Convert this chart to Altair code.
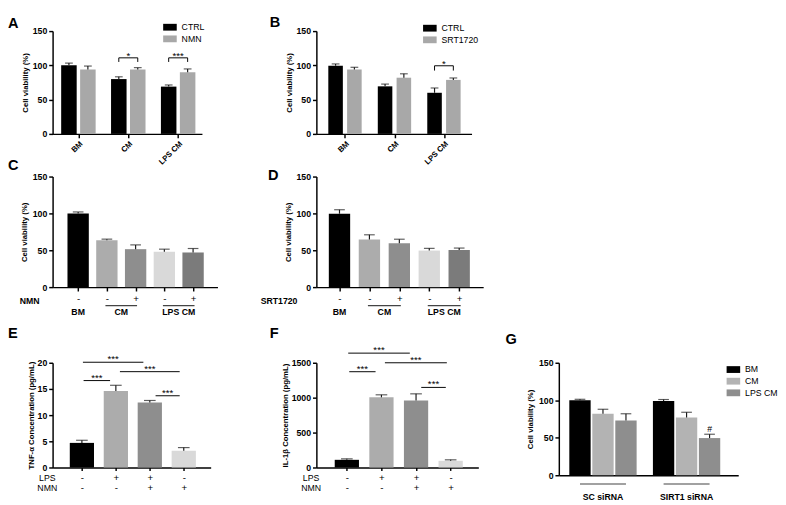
import json
import altair as alt
import pandas as pd

FONT = "Liberation Sans"
INK = "#000000"
ERR = "#1a1a1a"
SWATCH = "M-1,-0.5L1,-0.5L1,0.5L-1,0.5Z"

# ---------------- Panel A ----------------
a_groups = ["BM", "CM", "LPS CM"]
a_series = ["CTRL", "NMN"]
a_ctrl = [100, 80, 69]
a_ctrl_err = [3.3, 3.3, 2.4]
a_nmn = [94, 94, 90]
a_nmn_err = [5.0, 2.7, 4.8]
a_sig_groups = ["CM", "LPS CM"]
a_sig_labels = ["*", "***"]
a_sig_top = [111, 111]
a_sig_foot = [105, 105]

# ---------------- Panel B ----------------
b_groups = ["BM", "CM", "LPS CM"]
b_series = ["CTRL", "SRT1720"]
b_ctrl = [99.6, 69.4, 60]
b_ctrl_err = [2.5, 3.3, 7.0]
b_srt = [94, 82, 78.8]
b_srt_err = [3.2, 5.7, 2.8]
b_sig_groups = ["LPS CM"]
b_sig_labels = ["*"]
b_sig_top = [99.4]
b_sig_foot = [92.4]

# ---------------- Panels C / D ----------------
cd_group_names = ["BM", "CM", "LPS CM"]
cd_group_members = [[1], [2, 3], [4, 5]]
c_signs = ["-", "-", "+", "-", "+"]
c_vals = [100, 63.6, 51.5, 48, 47]
c_err = [2.0, 1.5, 5.8, 3.5, 5.4]
d_signs = ["-", "-", "+", "-", "+"]
d_vals = [99.6, 64.7, 59.5, 49.6, 50.4]
d_err = [5.4, 6.3, 5.5, 3.0, 2.6]

# ---------------- Panels E / F ----------------
ef_lps = ["-", "+", "+", "-"]
ef_nmn = ["-", "-", "+", "+"]
e_vals = [4.7, 14.6, 12.4, 3.2]
e_err = [0.5, 1.1, 0.4, 0.6]
e_sig_from = [1.03, 1.05, 2.12, 3.17]
e_sig_to = [2.81, 1.83, 3.88, 3.88]
e_sig_y = [20.1, 16.6, 18.3, 13.7]
e_sig_labels = ["***", "***", "***", "***"]
f_vals = [110, 1005, 959, 96]
f_err = [14, 36, 96, 14]
f_sig_from = [1.04, 1.07, 2.10, 3.15]
f_sig_to = [2.82, 1.83, 3.89, 3.86]
f_sig_y = [1638, 1372, 1500, 1147]
f_sig_labels = ["***", "***", "***", "***"]

# ---------------- Panel G ----------------
g_groups = ["SC siRNA", "SIRT1 siRNA"]
g_series = ["BM", "CM", "LPS CM"]
g_sc = [100, 82, 73]
g_sc_err = [1.3, 6.0, 9.0]
g_sirt = [99, 77, 49.6]
g_sirt_err = [2.0, 7.0, 5.1]
g_mark_group = ["SIRT1 siRNA"]
g_mark_series = ["LPS CM"]
g_mark_label = ["#"]
g_mark_y = [61]

# ---------------- palettes ----------------
pair_palette = ["#000000", "#a8a8a8"]
five_palette = ["#000000", "#acacac", "#8e8e8e", "#d9d9d9", "#7b7b7b"]
four_palette = ["#000000", "#acacac", "#8e8e8e", "#d9d9d9"]
g_palette = ["#000000", "#b3b3b3", "#8e8e8e"]


def letter(t, dx, dy):
    return alt.TitleParams(text=t, anchor="start", frame="group", dx=dx, dy=dy,
                           offset=0, fontSize=15, fontWeight="bold", font=FONT,
                           color=INK, baseline="alphabetic")


def grouped_df(groups, series, vals, errs, dodge):
    rows = []
    for gi, g in enumerate(groups):
        for si, s in enumerate(series):
            rows.append(dict(group=g, series=s, pos=gi + dodge[si],
                             value=vals[si][gi], err=errs[si][gi]))
    return pd.DataFrame(rows)


def single_df(vals, errs):
    return pd.DataFrame(dict(cat=[str(i + 1) for i in range(len(vals))],
                             pos=list(range(1, len(vals) + 1)),
                             value=vals, err=errs))


class Frame:
    """Shared scales and axes of one panel, reused by every layer."""

    def __init__(self, xs, ys, xaxis, yaxis):
        self.xs, self.ys, self.xaxis, self.yaxis = xs, ys, xaxis, yaxis

    def X(self, f):
        return alt.X(f"{f}:Q", scale=self.xs, axis=self.xaxis)

    def Y(self, f):
        return alt.Y(f"{f}:Q", scale=self.ys, axis=self.yaxis)


def bar_layers(df, fr, color, bar_w, cap_w):
    bars = alt.Chart(df).mark_bar(size=bar_w).encode(x=fr.X("pos"), y=fr.Y("value"), color=color)
    base = alt.Chart(df).transform_calculate(top="datum.value + datum.err")
    stem = base.mark_rule(color=ERR, strokeWidth=1.2).encode(x=fr.X("pos"), y=fr.Y("value"), y2="top:Q")
    cap = base.mark_tick(orient="horizontal", size=cap_w, thickness=1.2, color=ERR).encode(
        x=fr.X("pos"), y=fr.Y("top"))
    return [bars, stem, cap]


def bracket_layers(groups, sig_groups, labels, tops, foots, dodge, fr):
    gi = [groups.index(g) for g in sig_groups]
    df = pd.DataFrame(dict(mid=gi, x1=[g + dodge[0] for g in gi],
                           x2=[g + dodge[-1] for g in gi], top=tops, foot=foots, label=labels))
    base = alt.Chart(df)
    h = base.mark_rule(color=INK, strokeWidth=1).encode(x=fr.X("x1"), x2="x2:Q", y=fr.Y("top"))
    l = base.mark_rule(color=INK, strokeWidth=1).encode(x=fr.X("x1"), y=fr.Y("top"), y2="foot:Q")
    r = base.mark_rule(color=INK, strokeWidth=1).encode(x=fr.X("x2"), y=fr.Y("top"), y2="foot:Q")
    t = base.mark_text(font=FONT, fontSize=10, baseline="alphabetic", dy=1, color=INK).encode(
        x=fr.X("mid"), y=fr.Y("top"), text="label:N")
    return [h, l, r, t]


def line_sig_layers(x1, x2, ys_vals, labels, fr):
    df = pd.DataFrame(dict(x1=x1, x2=x2, y=ys_vals, label=labels))
    base = alt.Chart(df)
    h = base.mark_rule(color=INK, strokeWidth=1).encode(x=fr.X("x1"), x2="x2:Q", y=fr.Y("y"))
    t = base.transform_calculate(mid="(datum.x1 + datum.x2) / 2").mark_text(
        font=FONT, fontSize=10, baseline="alphabetic", dy=0, color=INK).encode(
        x=fr.X("mid"), y=fr.Y("y"), text="label:N")
    return [h, t]


def group_label_layers(names, firsts, lasts, fr, height, line_dy, text_dy, ext):
    df = pd.DataFrame(dict(name=names, first=firsts, last=lasts))
    base = alt.Chart(df).transform_calculate(
        mid="(datum.first + datum.last) / 2",
        lo=f"datum.first - {ext}", hi=f"datum.last + {ext}")
    txt = base.mark_text(font=FONT, fontSize=9, fontWeight="bold", baseline="middle", color=INK).encode(
        x=fr.X("mid"), y=alt.value(height + text_dy), text="name:N")
    rule = base.transform_filter("datum.last > datum.first").mark_rule(
        color="#444444", strokeWidth=1.2).encode(
        x=fr.X("lo"), x2="hi:Q", y=alt.value(height + line_dy))
    return [rule, txt]


legend_style = dict(orient="none", title=None, symbolType=SWATCH, symbolSize=196,
                    symbolStrokeWidth=0, labelFont=FONT, labelFontSize=9,
                    labelFontWeight="normal", labelColor=INK, rowPadding=0, labelOffset=5)


def cv_axis(pad=3):
    return alt.Axis(values=[0, 50, 100, 150], title="Cell viability (%)", titlePadding=pad)


def ab_panel(groups, series, v1, e1, v2, e2, sig_g, sig_l, sig_t, sig_f, W, H, dom, bar_w,
             leg_x, leg_y, let, let_dx, let_dy):
    dodge = [-0.19, 0.19]
    df = grouped_df(groups, series, [v1, v2], [e1, e2], dodge)
    xaxis = alt.Axis(values=list(range(len(groups))),
                     labelExpr=f"{json.dumps(groups)}[datum.value]",
                     labelAngle=-45, labelFontSize=8, title=None)
    fr = Frame(alt.Scale(domain=dom, nice=False, zero=False),
               alt.Scale(domain=[0, 150], nice=False), xaxis, cv_axis(3))
    color = alt.Color("series:N", scale=alt.Scale(domain=series, range=pair_palette),
                      legend=alt.Legend(legendX=leg_x, legendY=leg_y, **legend_style))
    return alt.layer(
        *bar_layers(df, fr, color, bar_w, 8),
        *bracket_layers(groups, sig_g, sig_l, sig_t, sig_f, dodge, fr),
    ).properties(width=W, height=H, title=letter(let, let_dx, let_dy))


panel_a = ab_panel(a_groups, a_series, a_ctrl, a_ctrl_err, a_nmn, a_nmn_err, a_sig_groups,
                   a_sig_labels, a_sig_top, a_sig_foot, 154, 106, [-0.42, 2.38], 16, 114, -11,
                   "A", -46, 23)
panel_b = ab_panel(b_groups, b_series, b_ctrl, b_ctrl_err, b_srt, b_srt_err, b_sig_groups,
                   b_sig_labels, b_sig_top, b_sig_foot, 160, 106, [-0.48, 2.46], 15, 110, -10,
                   "B", -48, 21)


def cd_panel(signs, vals, errs, sign_title, title_x, W, H, dom, let, let_dx, let_dy):
    df = single_df(vals, errs)
    xaxis = alt.Axis(values=list(range(1, len(vals) + 1)),
                     labelExpr=f"{json.dumps(signs)}[datum.value - 1]",
                     labelFontWeight="normal", labelFontSize=10, labelPadding=3,
                     title=sign_title, titleAngle=0, titleX=title_x, titleY=14,
                     titleAlign="right", titleBaseline="middle", titleFontSize=9)
    fr = Frame(alt.Scale(domain=dom, nice=False, zero=False),
               alt.Scale(domain=[0, 150], nice=False), xaxis, cv_axis(4))
    color = alt.Color("cat:N", scale=alt.Scale(domain=list(df["cat"]), range=five_palette), legend=None)
    firsts = [m[0] for m in cd_group_members]
    lasts = [m[-1] for m in cd_group_members]
    return alt.layer(
        *bar_layers(df, fr, color, 22, 11),
        *group_label_layers(cd_group_names, firsts, lasts, fr, H, 19, 26, 0.05),
    ).properties(width=W, height=H, title=letter(let, let_dx, let_dy))


panel_c = cd_panel(c_signs, c_vals, c_err, "NMN", -14, 170, 114, [0.28, 5.68], "C", -46, 12)
panel_d = cd_panel(d_signs, d_vals, d_err, "SRT1720", -20, 172, 114, [0.39, 5.64], "D", -50, 23)


def ef_panel(vals, errs, ytitle, yvals, ymax, sx1, sx2, sy, slab, W, H, dom, let, let_dx, let_dy):
    df = single_df(vals, errs)
    signs = [[a, b] for a, b in zip(ef_lps, ef_nmn)]
    xaxis = alt.Axis(values=list(range(1, len(vals) + 1)),
                     labelExpr=f"{json.dumps(signs)}[datum.value - 1]",
                     labelFontWeight="normal", labelFontSize=10, labelLineHeight=11,
                     labelBaseline="top", labelPadding=2, tickSize=3,
                     title=["LPS", "NMN"], titleAngle=0, titleX=-6, titleY=6,
                     titleAlign="center", titleBaseline="top", titleFontWeight="normal",
                     titleFontSize=9, titleLineHeight=11)
    yaxis = alt.Axis(values=yvals, title=ytitle, format="d", titlePadding=2)
    fr = Frame(alt.Scale(domain=dom, nice=False, zero=False),
               alt.Scale(domain=[0, ymax], nice=False), xaxis, yaxis)
    color = alt.Color("cat:N", scale=alt.Scale(domain=list(df["cat"]), range=four_palette), legend=None)
    return alt.layer(
        *bar_layers(df, fr, color, 25, 12),
        *line_sig_layers(sx1, sx2, sy, slab, fr),
    ).properties(width=W, height=H, title=letter(let, let_dx, let_dy))


panel_e = ef_panel(e_vals, e_err, "TNF-α Concentration (pg/mL)", [0, 5, 10, 15, 20], 20,
                   e_sig_from, e_sig_to, e_sig_y, e_sig_labels, 163, 108, [0.28, 4.65], "E", -46, -2)
panel_f = ef_panel(f_vals, f_err, "IL-1β Concentration (pg/mL)", [0, 500, 1000, 1500], 1500,
                   f_sig_from, f_sig_to, f_sig_y, f_sig_labels, 167, 108, [0.26, 4.66], "F", -48, 7)

# ---------------- Panel G ----------------
G_W, G_H = 185, 116
g_dodge = [-0.275, 0.0, 0.275]
g_df = grouped_df(g_groups, g_series, [[g_sc[i], g_sirt[i]] for i in range(3)],
                  [[g_sc_err[i], g_sirt_err[i]] for i in range(3)], g_dodge)
g_fr = Frame(alt.Scale(domain=[-0.47, 1.56], nice=False, zero=False),
             alt.Scale(domain=[0, 150], nice=False),
             alt.Axis(values=[0, 1], labels=False, ticks=False, title=None), cv_axis(4))
g_color = alt.Color("series:N", scale=alt.Scale(domain=g_series, range=g_palette),
                    legend=alt.Legend(legendX=173, legendY=0, **legend_style))
g_mark_df = pd.DataFrame(dict(
    pos=[g_groups.index(g) + g_dodge[g_series.index(s)] for g, s in zip(g_mark_group, g_mark_series)],
    y=g_mark_y, label=g_mark_label))
g_mark = alt.Chart(g_mark_df).mark_text(font=FONT, fontSize=9, baseline="middle", color=INK).encode(
    x=g_fr.X("pos"), y=g_fr.Y("y"), text="label:N")
panel_g = alt.layer(
    *bar_layers(g_df, g_fr, g_color, 22, 11),
    g_mark,
    *group_label_layers(g_groups, [i + g_dodge[0] for i in range(len(g_groups))],
                        [i + g_dodge[-1] for i in range(len(g_groups))], g_fr, G_H, 9, 23, 0.0),
).properties(width=G_W, height=G_H, title=letter("G", -55, 0))

spacer_df = pd.DataFrame({"s": [0]})


def spacer(w, h):
    return alt.Chart(spacer_df).mark_point(opacity=0).encode(
        x=alt.value(0), y=alt.value(0)).properties(width=w, height=h)


# grid of 5 columns (panel, gap, panel, gap, panel); spacer rows set the row gaps
grid = alt.concat(
    panel_a, spacer(26, 106), panel_b, spacer(2, 106), spacer(2, 106),
    spacer(2, 2), spacer(2, 2), spacer(2, 2), spacer(2, 2), spacer(2, 2),
    panel_c, spacer(18, 114), panel_d, spacer(2, 114), spacer(2, 114),
    spacer(2, 36), spacer(2, 36), spacer(2, 36), spacer(2, 36), spacer(2, 31),
    panel_e, spacer(22, 108), panel_f, spacer(2, 108), panel_g,
    columns=5, align="none", bounds="flush", spacing={"row": 21, "column": 38},
).resolve_scale(x="independent", y="independent", color="independent").resolve_legend(
    color="independent")

chart = grid.properties(padding={"left": 0, "top": 0, "right": 0, "bottom": 0}).configure_view(
    strokeWidth=0
).configure_axis(
    domainColor=INK, domainWidth=1.5, tickColor=INK, tickWidth=1.5, tickSize=4,
    labelColor=INK, titleColor=INK, labelFont=FONT, titleFont=FONT,
    labelFontSize=9, labelFontWeight="bold", titleFontSize=8, titleFontWeight="bold",
    grid=False, labelPadding=2, labelFlush=False, labelOverlap=False
).configure_text(font=FONT)

chart.save("out.html", embed_options={"renderer": "svg", "actions": False})
